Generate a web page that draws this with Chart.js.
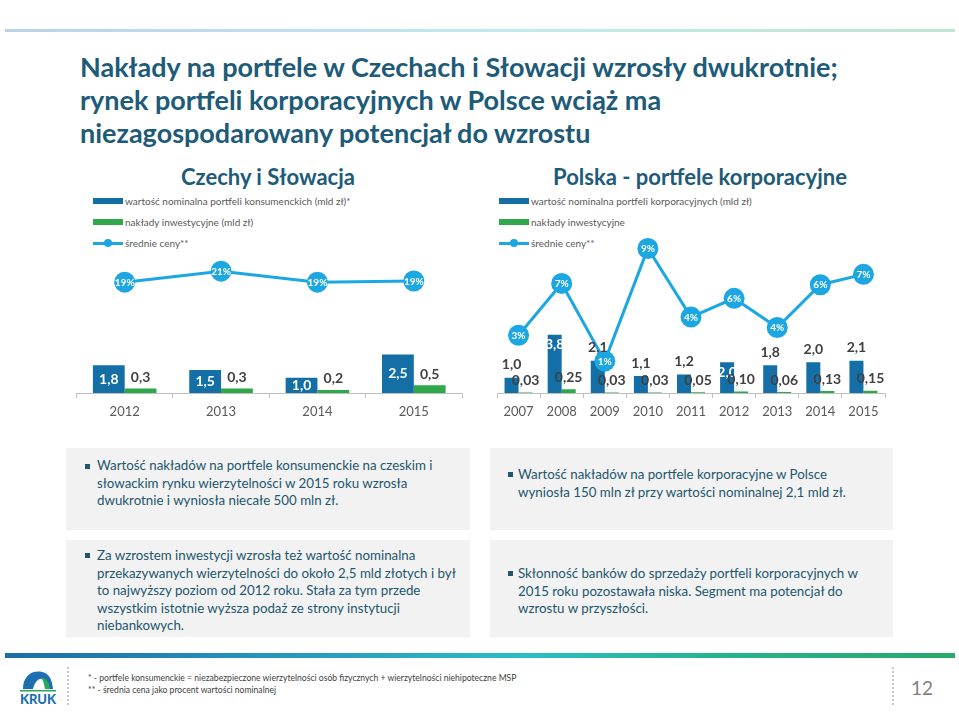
<!DOCTYPE html>
<html>
<head>
<meta charset="utf-8">
<script src="https://cdn.jsdelivr.net/npm/chart.js@4.4.0/dist/chart.umd.min.js"></script>
<style>
  body { margin: 0; width: 959px; height: 713px; background: #fff; position: relative; overflow: hidden; font-family: Lato, "Noto Sans", sans-serif; }
  .abs { position: absolute; }
  .band { position: absolute; left: 5px; width: 950px; background: linear-gradient(90deg, #1b6ea3 0%, #2a9fc0 35%, #2bbdc4 55%, #27b38f 75%, #2aa86a 100%); }
  .title { left: 80px; top: 50px; font-size: 27px; font-weight: 700; color: #1d5b79; line-height: 33px; }
  .ctitle { top: 163px; font-size: 22px; font-weight: 700; color: #1d5b79; white-space: nowrap; transform: translateX(-50%); }
  .leg { font-size: 10px; color: #595959; white-space: nowrap; height: 14px; line-height: 14px; }
  .leg .sw { position: absolute; left: 0; top: 4px; width: 30px; height: 6px; }
  .leg .ln { position: absolute; left: 0; top: 6px; width: 30px; height: 3px; background: #1ca7e3; }
  .leg .dot { position: absolute; left: 11px; top: 3px; width: 8px; height: 8px; border-radius: 50%; background: #1ca7e3; }
  .leg span { position: absolute; left: 32px; top: 0; }
  .box { background: #f2f2f2; }
  .box p { position: absolute; margin: 0; font-size: 13.3px; line-height: 17.5px; color: #22566e; white-space: nowrap; }
  .box i { position: absolute; width: 5px; height: 5px; background: #22566e; }
  .foot { left: 88px; font-size: 8.6px; color: #404040; white-space: nowrap; }
  .sep { position: absolute; width: 0; border-left: 2px dotted #c8c8c8; }
</style>
</head>
<body>
<div class="band" style="top:29px;height:3px;opacity:0.3"></div>

<div class="abs title">Nakłady na portfele w Czechach i Słowacji wzrosły dwukrotnie;<br>rynek portfeli korporacyjnych w Polsce wciąż ma<br>niezagospodarowany potencjał do wzrostu</div>

<div class="abs ctitle" style="left:268px">Czechy i Słowacja</div>
<div class="abs ctitle" style="left:700px">Polska - portfele korporacyjne</div>

<div class="abs leg" style="left:93px;top:194px"><div class="sw" style="background:#136fa5"></div><span>wartość nominalna portfeli konsumenckich (mld zł)*</span></div>
<div class="abs leg" style="left:93px;top:215px"><div class="sw" style="background:#2ea84a"></div><span>nakłady inwestycyjne (mld zł)</span></div>
<div class="abs leg" style="left:93px;top:236px"><div class="ln"></div><div class="dot"></div><span>średnie ceny**</span></div>

<div class="abs leg" style="left:499px;top:194px"><div class="sw" style="background:#136fa5"></div><span>wartość nominalna portfeli korporacyjnych (mld zł)</span></div>
<div class="abs leg" style="left:499px;top:215px"><div class="sw" style="background:#2ea84a"></div><span>nakłady inwestycyjne</span></div>
<div class="abs leg" style="left:499px;top:236px"><div class="ln"></div><div class="dot"></div><span>średnie ceny**</span></div>

<div class="abs" style="left:60px;top:225px;width:415px;height:200px"><canvas id="cz"></canvas></div>
<div class="abs" style="left:480px;top:225px;width:420px;height:200px"><canvas id="pl"></canvas></div>

<div class="abs box" style="left:66px;top:448px;width:404px;height:82px">
  <i style="left:19px;top:16px"></i>
  <p style="left:31px;top:9px">Wartość nakładów na portfele konsumenckie na czeskim i<br>słowackim rynku wierzytelności w 2015 roku wzrosła<br>dwukrotnie i wyniosła niecałe 500 mln zł.</p>
</div>
<div class="abs box" style="left:490px;top:448px;width:403px;height:82px">
  <i style="left:18px;top:24px"></i>
  <p style="left:28px;top:18px">Wartość nakładów na portfele korporacyjne w Polsce<br>wyniosła 150 mln zł przy wartości nominalnej 2,1 mld zł.</p>
</div>
<div class="abs box" style="left:66px;top:540px;width:404px;height:97px">
  <i style="left:19px;top:13px"></i>
  <p style="left:31px;top:7px">Za wzrostem inwestycji wzrosła też wartość nominalna<br>przekazywanych wierzytelności do około 2,5 mld złotych i był<br>to najwyższy poziom od 2012 roku. Stała za tym przede<br>wszystkim istotnie wyższa podaż ze strony instytucji<br>niebankowych.</p>
</div>
<div class="abs box" style="left:490px;top:540px;width:403px;height:97px">
  <i style="left:18px;top:31px"></i>
  <p style="left:28px;top:25px">Skłonność banków do sprzedaży portfeli korporacyjnych w<br>2015 roku pozostawała niska. Segment ma potencjał do<br>wzrostu w przyszłości.</p>
</div>

<div class="band" style="top:653px;height:5px"></div>

<svg class="abs" style="left:14px;top:668px" width="46" height="40" viewBox="0 0 46 40">
  <path d="M9 21 C9 8 18 2 28 4 C34 5 38 10 39 21 L33 21 C32 13 29 10 26 11 C22 12 20 17 19 21 Z" fill="#1c6fb0"/>
  <path d="M27 10 C31 9 35 13 36 21 L31 21 C30 15 29 12 27 10 Z" fill="#27a85a"/>
  <rect x="6" y="22" width="36" height="1.5" fill="#27a85a"/>
  <text x="24" y="36" text-anchor="middle" font-family="Lato, sans-serif" font-weight="900" font-size="13" fill="#1c6fb0">KRUK</text>
</svg>
<div class="sep" style="left:67px;top:667px;height:38px"></div>
<div class="abs foot" style="top:673px">* - portfele konsumenckie = niezabezpieczone wierzytelności osób fizycznych + wierzytelności niehipoteczne MSP</div>
<div class="abs foot" style="top:685px">** - średnia cena jako procent wartości nominalnej</div>
<div class="sep" style="left:892px;top:667px;height:38px"></div>
<div class="abs" style="left:911px;top:676px;font-size:19px;color:#7f7f7f">12</div>

<script>
const czYears = ['2012', '2013', '2014', '2015'];
const czNominal = [1.8, 1.5, 1.0, 2.5];
const czInvest = [0.3, 0.3, 0.2, 0.5];
const czPrice = [19, 21, 19, 19.2];
const czPriceLabels = ['19%', '21%', '19%', '19%'];

const plYears = ['2007', '2008', '2009', '2010', '2011', '2012', '2013', '2014', '2015'];
const plNominal = [1.0, 3.8, 2.1, 1.1, 1.2, 2.0, 1.8, 2.0, 2.1];
const plInvest = [0.03, 0.25, 0.03, 0.03, 0.05, 0.10, 0.06, 0.13, 0.15];
const plPrice = [3.0, 7.0, 1.0, 9.7, 4.4, 5.85, 3.6, 6.9, 7.7];
const plPriceLabels = ['3%', '7%', '1%', '9%', '4%', '6%', '4%', '6%', '7%'];

const BLUE = '#136fa5';
const GREEN = '#2ea84a';
const LINE = '#1ca7e3';
const FONT = 'Lato, "Noto Sans", sans-serif';

// rysuje etykiety wartości przy słupkach i w kółkach linii
const valueLabels = {
  id: 'valueLabels',
  afterDatasetsDraw(chart) {
    const ctx = chart.ctx;
    ctx.save();
    ctx.textAlign = 'center';
    ctx.textBaseline = 'middle';
    chart.data.datasets.forEach((ds, i) => {
      const meta = chart.getDatasetMeta(i);
      meta.data.forEach((el, j) => {
        const v = ds.data[j];
        if (ds.type === 'line') {
          ctx.fillStyle = '#fff';
          ctx.font = 'bold 10px ' + FONT;
          ctx.fillText(ds.pointLabels[j], el.x, el.y + 0.5);
          return;
        }
        const txt = v.toFixed(ds.decimals).replace('.', ',');
        const mode = ds.labelModes[j];
        ctx.font = 'bold 14px ' + FONT;
        if (mode === 'inside') {
          ctx.fillStyle = '#fff';
          const y = ds.centerInside ? (el.y + el.base) / 2 : el.y + 10;
          ctx.fillText(txt, el.x, y);
        } else {
          ctx.fillStyle = '#404040';
          ctx.fillText(txt, el.x, el.y - ds.labelGap);
        }
      });
    });
    ctx.restore();
  }
};

function makeChart(id, years, nominal, invest, price, priceLabels, cfg) {
  return new Chart(document.getElementById(id), {
    type: 'bar',
    data: {
      labels: years,
      datasets: [
        {
          type: 'bar', data: nominal, backgroundColor: BLUE, yAxisID: 'y', order: 2,
          decimals: 1, labelModes: cfg.nominalModes, centerInside: cfg.centerInside, labelGap: 13
        },
        {
          type: 'bar', data: invest, backgroundColor: GREEN, yAxisID: 'y', order: 2,
          decimals: cfg.investDecimals, labelModes: invest.map(() => 'above'), labelGap: cfg.investGap
        },
        {
          type: 'line', data: price, yAxisID: 'y1', order: 0, clip: false,
          borderColor: LINE, borderWidth: 3, pointRadius: 10.5, pointBackgroundColor: LINE,
          pointBorderWidth: 0, pointHoverRadius: 10.5, tension: 0, pointLabels: priceLabels
        }
      ]
    },
    options: {
      responsive: true,
      maintainAspectRatio: false,
      animation: false,
      events: [],
      layout: { padding: { left: cfg.padLeft, right: cfg.padRight, top: 10, bottom: 0 } },
      datasets: { bar: { categoryPercentage: cfg.catPct, barPercentage: 1.0 } },
      scales: {
        x: {
          offset: true,
          grid: { display: true, drawOnChartArea: false, drawTicks: true, tickLength: 5, color: '#bfbfbf', offset: true },
          border: { color: '#bfbfbf', width: 1 },
          ticks: { color: '#595959', padding: 6, font: { family: FONT, size: 13 } },
          afterFit: s => { s.height = 32; }
        },
        y: { display: false, min: 0, max: 10.26 },
        y1: { display: false, min: cfg.pMin, max: cfg.pMax }
      },
      plugins: { legend: { display: false }, tooltip: { enabled: false } }
    },
    plugins: [valueLabels]
  });
}

makeChart('cz', czYears, czNominal, czInvest, czPrice, czPriceLabels, {
  padLeft: 16.5, padRight: 13, catPct: 0.66, pMin: -1.2, pMax: 27.5,
  nominalModes: czNominal.map(() => 'inside'), centerInside: true,
  investDecimals: 1, investGap: 11
});

makeChart('pl', plYears, plNominal, plInvest, plPrice, plPriceLabels, {
  padLeft: 17, padRight: 15, catPct: 0.65, pMin: -1.46, pMax: 10.7,
  nominalModes: ['above', 'inside', 'above', 'above', 'above', 'inside', 'above', 'above', 'above'],
  centerInside: false, investDecimals: 2, investGap: 12
});
</script>
</body>
</html>
